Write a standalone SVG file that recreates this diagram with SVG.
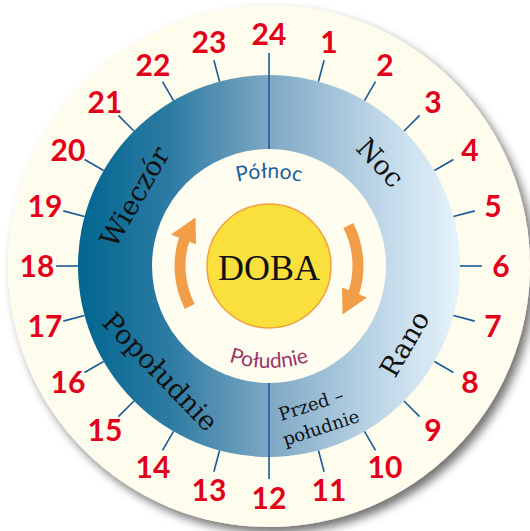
<svg xmlns="http://www.w3.org/2000/svg" width="530" height="531" viewBox="0 0 530 531">
<defs>
<linearGradient id="ring" gradientUnits="userSpaceOnUse" x1="78" y1="0" x2="460" y2="0">
<stop offset="0" stop-color="#006690"/>
<stop offset="0.25" stop-color="#2f7ca4"/>
<stop offset="0.5" stop-color="#7ea8c4"/>
<stop offset="0.78" stop-color="#bcd5e6"/>
<stop offset="1" stop-color="#e6f3fb"/>
</linearGradient>
<filter id="sh" x="-10%" y="-10%" width="125%" height="125%">
<feDropShadow dx="5" dy="6" stdDeviation="5" flood-color="#000" flood-opacity="0.55"/>
</filter>
<path id="pnPath" d="M139,308 A130,130 0 0 1 399,308"/>
<path id="pdPath" d="M139,238 A130,130 0 0 0 399,238"/>
<style>
.tick{stroke:#1b5a96;stroke-width:1.6;fill:none}
.num{font-family:Lato,"Liberation Sans",sans-serif;font-weight:700;font-size:30px;fill:#e2001a;text-anchor:middle}
.lab{font-family:"DejaVu Serif","Liberation Serif",serif;font-size:27px;fill:#111;text-anchor:middle}
.lab2{font-family:"DejaVu Serif","Liberation Serif",serif;font-size:18px;fill:#111;text-anchor:middle}
.arrow{fill:#f29d48}
.shaft{fill:none;stroke:#f29d48;stroke-width:11}
</style>
</defs>
<rect width="530" height="531" fill="#ffffff"/>
<g id="dial">
<circle cx="269" cy="266" r="261" fill="#fefcec" filter="url(#sh)"/>
<circle cx="269" cy="266" r="191" fill="url(#ring)"/>
<circle cx="269" cy="266" r="117" fill="#fffdf0"/>
</g>
<g id="connectors">
<line class="tick" x1="269" y1="149" x2="269" y2="53"/>
<line class="tick" x1="269" y1="383" x2="269" y2="479"/>
<g id="ticks">
<line class="tick" x1="269" y1="75" x2="269" y2="53" transform="rotate(15 269 266)"/>
<line class="tick" x1="269" y1="75" x2="269" y2="53" transform="rotate(30 269 266)"/>
<line class="tick" x1="269" y1="75" x2="269" y2="53" transform="rotate(45 269 266)"/>
<line class="tick" x1="269" y1="75" x2="269" y2="53" transform="rotate(60 269 266)"/>
<line class="tick" x1="269" y1="75" x2="269" y2="53" transform="rotate(75 269 266)"/>
<line class="tick" x1="269" y1="75" x2="269" y2="53" transform="rotate(90 269 266)"/>
<line class="tick" x1="269" y1="75" x2="269" y2="53" transform="rotate(105 269 266)"/>
<line class="tick" x1="269" y1="75" x2="269" y2="53" transform="rotate(120 269 266)"/>
<line class="tick" x1="269" y1="75" x2="269" y2="53" transform="rotate(135 269 266)"/>
<line class="tick" x1="269" y1="75" x2="269" y2="53" transform="rotate(150 269 266)"/>
<line class="tick" x1="269" y1="75" x2="269" y2="53" transform="rotate(165 269 266)"/>
<line class="tick" x1="269" y1="75" x2="269" y2="53" transform="rotate(195 269 266)"/>
<line class="tick" x1="269" y1="75" x2="269" y2="53" transform="rotate(210 269 266)"/>
<line class="tick" x1="269" y1="75" x2="269" y2="53" transform="rotate(225 269 266)"/>
<line class="tick" x1="269" y1="75" x2="269" y2="53" transform="rotate(240 269 266)"/>
<line class="tick" x1="269" y1="75" x2="269" y2="53" transform="rotate(255 269 266)"/>
<line class="tick" x1="269" y1="75" x2="269" y2="53" transform="rotate(270 269 266)"/>
<line class="tick" x1="269" y1="75" x2="269" y2="53" transform="rotate(285 269 266)"/>
<line class="tick" x1="269" y1="75" x2="269" y2="53" transform="rotate(300 269 266)"/>
<line class="tick" x1="269" y1="75" x2="269" y2="53" transform="rotate(315 269 266)"/>
<line class="tick" x1="269" y1="75" x2="269" y2="53" transform="rotate(330 269 266)"/>
<line class="tick" x1="269" y1="75" x2="269" y2="53" transform="rotate(345 269 266)"/>
</g>
<g id="arrow-left">
<path class="shaft" d="M189.7,306.4 A89,89 0 0 1 184.9,237.0"/>
<polygon class="arrow" points="195.5,217.5 171.0,234.5 196.0,244.5"/>
</g>
<g id="arrow-right" transform="rotate(180 269 266)">
<path class="shaft" d="M189.7,306.4 A89,89 0 0 1 184.9,237.0"/>
<polygon class="arrow" points="195.5,217.5 171.0,234.5 196.0,244.5"/>
</g>
</g>
<g id="hours">
<text class="num" x="269" y="45">24</text>
<text class="num" x="329" y="53">1</text>
<text class="num" x="385" y="76">2</text>
<text class="num" x="433" y="113">3</text>
<text class="num" x="470" y="161">4</text>
<text class="num" x="493" y="217">5</text>
<text class="num" x="501" y="277">6</text>
<text class="num" x="493" y="337">7</text>
<text class="num" x="470" y="393">8</text>
<text class="num" x="433" y="441">9</text>
<text class="num" x="385" y="478">10</text>
<text class="num" x="329" y="501">11</text>
<text class="num" x="269" y="509">12</text>
<text class="num" x="209" y="501">13</text>
<text class="num" x="153" y="478">14</text>
<text class="num" x="105" y="441">15</text>
<text class="num" x="68" y="393">16</text>
<text class="num" x="45" y="337">17</text>
<text class="num" x="37" y="277">18</text>
<text class="num" x="45" y="217">19</text>
<text class="num" x="68" y="161">20</text>
<text class="num" x="105" y="113">21</text>
<text class="num" x="153" y="76">22</text>
<text class="num" x="209" y="53">23</text>
</g>
<g id="sun">
<circle cx="269" cy="266" r="62" fill="#fae03c" stroke="#f0a040" stroke-width="1.5"/>
<text x="269" y="280" font-family="'Liberation Serif',serif" font-size="36" fill="#111" text-anchor="middle">DOBA</text>
</g>
<g id="label-polnoc">
<text font-family="Lato,'Liberation Sans',sans-serif" font-size="21" fill="#1b5e9e"><textPath href="#pnPath" startOffset="50%" text-anchor="middle">Północ</textPath></text>
</g>
<g id="label-poludnie">
<text font-family="Lato,'Liberation Sans',sans-serif" font-size="21" fill="#9b3468"><textPath href="#pdPath" startOffset="50%" text-anchor="middle">Południe</textPath></text>
</g>
<g id="label-wieczor">
<text class="lab" transform="translate(135,197) rotate(-60)" y="9">Wieczór</text>
</g>
<g id="label-noc">
<text class="lab" transform="translate(380,163) rotate(47)" y="9">Noc</text>
</g>
<g id="label-rano">
<text class="lab" transform="translate(405,344) rotate(-60)" y="9">Rano</text>
</g>
<g id="label-popoludnie">
<text class="lab" transform="translate(160,372) rotate(46)" y="9">Popołudnie</text>
</g>
<g id="label-przedpoludnie">
<text class="lab2" transform="translate(311,405) rotate(-18)" y="6">Przed –</text>
<text class="lab2" transform="translate(321,428) rotate(-18)" y="6">południe</text>
</g>
</svg>
